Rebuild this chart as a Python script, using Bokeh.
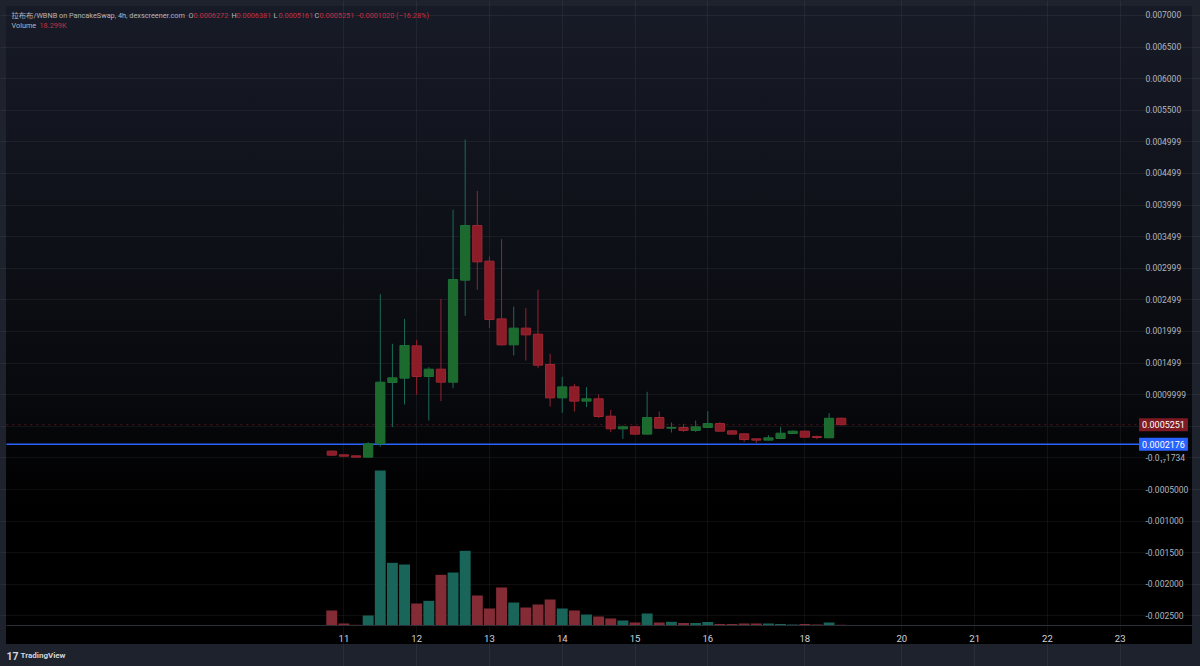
from bokeh.plotting import figure
from bokeh.models import ColumnDataSource, Range1d, Label, FixedTicker, LinearAxis, Grid
from bokeh.embed import file_html
from bokeh.resources import INLINE

# 4h candles
opens = [0.000107, 0.000049, 0.000033, 0.000012, 0.000223, 0.001193, 0.001262, 0.001773, 0.001288, 0.001404, 0.001198,
         0.002812, 0.003677, 0.003113, 0.002200, 0.001789, 0.002053, 0.001958, 0.001478, 0.000950, 0.001124, 0.000898,
         0.000935, 0.000660, 0.000460, 0.000492, 0.000376, 0.000639, 0.000470, 0.000481, 0.000434, 0.000481, 0.000544,
         0.000428, 0.000381, 0.000302, 0.000281, 0.000307, 0.000386, 0.000423, 0.000339, 0.000318, 0.0006272]
highs = [0.000117, 0.000050, 0.000033, 0.000249, 0.002591, 0.001805, 0.002200, 0.001868, 0.001436, 0.002517, 0.003925,
         0.005037, 0.004225, 0.003187, 0.003461, 0.002395, 0.002369, 0.002659, 0.001647, 0.001283, 0.001172, 0.001119,
         0.001003, 0.000760, 0.000513, 0.000507, 0.001045, 0.000734, 0.000560, 0.000539, 0.000592, 0.000739, 0.000565,
         0.000434, 0.000381, 0.000302, 0.000360, 0.000486, 0.000434, 0.000429, 0.000354, 0.000708, 0.0006381]
lows = [0.000038, 0.000025, 0.000010, 0.000010, 0.000180, 0.000486, 0.000845, 0.001003, 0.000592, 0.000898, 0.001103,
        0.002248, 0.002659, 0.002058, 0.001778, 0.001620, 0.001541, 0.001420, 0.000813, 0.000713, 0.000734, 0.000803,
        0.000634, 0.000407, 0.000302, 0.000370, 0.000370, 0.000465, 0.000402, 0.000412, 0.000412, 0.000476, 0.000418,
        0.000370, 0.000254, 0.000238, 0.000275, 0.000307, 0.000376, 0.000323, 0.000296, 0.000312, 0.0005161]
closes = [0.000043, 0.000027, 0.000012, 0.000223, 0.001198, 0.001267, 0.001778, 0.001288, 0.001404, 0.001198, 0.002823,
          0.003677, 0.003102, 0.002190, 0.001789, 0.002053, 0.001947, 0.001467, 0.000950, 0.001124, 0.000898, 0.000935,
          0.000655, 0.000460, 0.000492, 0.000376, 0.000639, 0.000470, 0.000481, 0.000434, 0.000492, 0.000544, 0.000423,
          0.000376, 0.000291, 0.000281, 0.000318, 0.000391, 0.000423, 0.000328, 0.000323, 0.000627, 0.0005251]
# volume in thousands
volumes = [390, 52, 18, 260, 4030, 1630, 1586, 572, 642, 1318, 1378, 1942, 780, 442, 988, 598, 468, 546, 676, 442, 390,
           286, 234, 182, 130, 78, 312, 78, 96, 65, 65, 91, 39, 39, 52, 52, 52, 39, 26, 39, 26, 78, 18.299]

price_ticks = [0.007, 0.0065, 0.006, 0.0055, 0.005, 0.0045, 0.004, 0.0035, 0.003, 0.0025, 0.002, 0.0015, 0.001, 0.0,
               -0.0005, -0.001, -0.0015, -0.002, -0.0025]
price_tick_labels = ["0.007000", "0.006500", "0.006000", "0.005500", "0.004999", "0.004499", "0.003999", "0.003499",
                     "0.002999", "0.002499", "0.001999", "0.001499", "0.0009999", "-0.0₁₇1734",
                     "-0.0005000", "-0.001000", "-0.001500", "-0.002000", "-0.002500"]
grid_prices = price_ticks + [0.0005]
day_bars = [1, 7, 13, 19, 25, 31, 39, 47, 53, 59, 65]
day_labels = ["11", "12", "13", "14", "15", "16", "18", "20", "21", "22", "23"]
last_price = 0.0005251
line_price = 0.0002176

GREEN_BODY, GREEN_EDGE, GREEN_WICK = "#1c6a2d", "#1d7035", "#1a6b5a"
RED_BODY, RED_EDGE, RED_WICK = "#8c1c28", "#9c2632", "#96232f"
FONT = "Roboto, 'Noto Sans CJK SC', sans-serif"
GREY = "#b2b5be"
RED_TEXT = "#c22f45"

# pane limits in data units: the frame takes the whole canvas so that labels can sit over the axes
PANE_LEFT, PANE_RIGHT, SCALE_RIGHT = -26.82, 66.59, 70.96
PANE_BOTTOM, PANE_TOP = -0.00265, 0.007142

bars = list(range(len(opens)))
up = [c >= o for o, c in zip(opens, closes)]
source = ColumnDataSource(dict(
    x=bars,
    open=opens,
    high=highs,
    low=lows,
    close=closes,
    volume=volumes,
    body=[GREEN_BODY if u else RED_BODY for u in up],
    edge=[GREEN_EDGE if u else RED_EDGE for u in up],
    wick=[GREEN_WICK if u else RED_WICK for u in up],
    vol_color=["#19655a" if u else "#842c36" for u in up],
))

p = figure(
    width=1200, height=666,
    x_range=Range1d(-27.31, 71.62),
    y_range=Range1d(-0.0033006, 0.0072373),
    x_axis_type=None, y_axis_type=None,
    tools="", toolbar_location=None,
    output_backend="svg",
    min_border_left=0, min_border_right=0, min_border_top=0, min_border_bottom=0,
    styles={
        "position": "absolute", "left": "0px", "top": "0px",
        "background": "linear-gradient(#171b27, #08090d 62%, #000 78%) 6px 6px / 1186px 638px no-repeat, #1e222d",
    },
)
p.background_fill_alpha = 0
p.border_fill_alpha = 0
p.outline_line_color = None
p.extra_y_ranges = {"volume": Range1d(-1066, 16250)}

# axes
xaxis = LinearAxis(fixed_location=PANE_BOTTOM, bounds=(PANE_LEFT, SCALE_RIGHT), ticker=FixedTicker(ticks=day_bars))
xaxis.major_label_overrides = dict(zip(day_bars, day_labels))
xaxis.major_label_text_color = "#d1d4dc"
xaxis.major_label_text_font = FONT
xaxis.major_label_text_font_size = "9.5px"
xaxis.major_label_standoff = 4
xaxis.major_tick_line_color = None
xaxis.minor_tick_line_color = None
xaxis.axis_line_color = "#2a2e39"
p.add_layout(xaxis, "below")

yaxis = LinearAxis(fixed_location=PANE_RIGHT, ticker=FixedTicker(ticks=price_ticks))
yaxis.major_label_overrides = dict(zip(price_ticks, price_tick_labels))
yaxis.major_label_text_color = GREY
yaxis.major_label_text_font = FONT
yaxis.major_label_text_font_size = "8.5px"
yaxis.major_label_standoff = 0
yaxis.major_tick_line_color = None
yaxis.minor_tick_line_color = None
yaxis.axis_line_color = None
p.add_layout(yaxis, "right")

# grid
for dimension, ticks, limits in [(0, day_bars, (PANE_BOTTOM, PANE_TOP)), (1, grid_prices, (PANE_LEFT, PANE_RIGHT))]:
    p.add_layout(Grid(dimension=dimension, ticker=FixedTicker(ticks=ticks), bounds=limits,
                      grid_line_color="#f2f2f2", grid_line_alpha=0.06))

# volume under the candles
p.vbar(x="x", top="volume", bottom=0, width=0.9, fill_color="vol_color", line_color=None,
       y_range_name="volume", source=source)

# price lines
p.segment(x0=[PANE_LEFT], y0=[last_price], x1=[PANE_RIGHT], y1=[last_price], line_color="#8f1c28", line_width=1,
          line_alpha=0.6, line_dash="dotted")
p.segment(x0=[PANE_LEFT], y0=[line_price], x1=[PANE_RIGHT], y1=[line_price], line_color="#2962ff", line_width=1.5)

# candles
p.segment(x0="x", y0="low", x1="x", y1="high", line_color="wick", line_width=1, source=source)
p.vbar(x="x", top="open", bottom="close", width=0.76, fill_color="body", line_color="edge", line_width=1, source=source)


def screen_text(x, y, text, color=GREY, size="7.3px", style="normal"):
    p.add_layout(Label(x=x, y=666 - y, x_units="screen", y_units="screen", text=text, text_color=color,
                       text_font=FONT, text_font_size=size, text_font_style=style,
                       text_baseline="middle"))


# price tags
for price, tag_color in [(last_price, "#7f1a22"), (line_price, "#2962ff")]:
    p.add_layout(Label(x=1163, y=price, x_units="screen", y_units="data", text=f"{price:.7f}", text_color="#ffffff",
                       text_font=FONT, text_font_size="9px", text_align="center", text_baseline="middle",
                       background_fill_color=tag_color, padding=3))

# header
screen_text(11, 15, "拉布布/WBNB on PancakeSwap, 4h, dexscreener.com")
for x, letter, val in [(188, "O", "0.0006272"), (231, "H", "0.0006381"), (273, "L", "0.0005161"), (314, "C", "0.0005251")]:
    screen_text(x, 15, letter)
    screen_text(x + 5, 15, val, RED_TEXT)
screen_text(357, 15, "-0.0001020 (−16.28%)", RED_TEXT)
screen_text(11, 25, "Volume")
screen_text(39, 25, "18.299K", RED_TEXT)

# footer
screen_text(6, 655, "17", "#d1d4dc", "10.5px", "bold")
screen_text(20, 655, "TradingView", "#d1d4dc", "8px", "bold")

open("out.html", "w").write(file_html(p, INLINE))
